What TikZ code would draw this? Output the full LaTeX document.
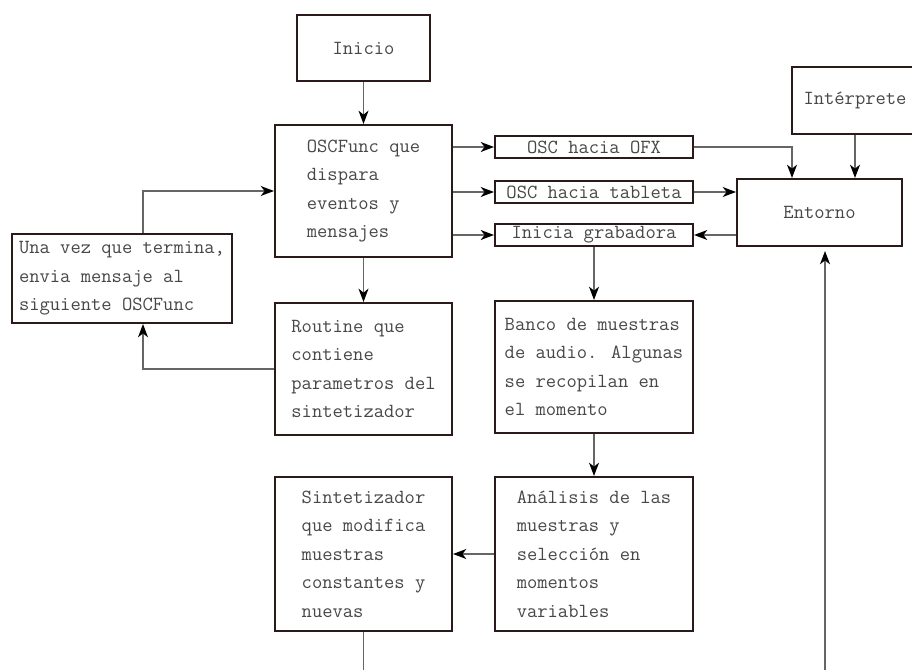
\documentclass[tikz,border=0pt]{standalone}
\usepackage{fontspec}
\usepackage{tikz}
\usetikzlibrary{arrows.meta}
\definecolor{borde}{HTML}{2B1A1A}
\definecolor{linea}{HTML}{666666}

\begin{document}
\begin{tikzpicture}[x=0.75pt,y=-0.75pt,
  caja/.style={draw=borde,line width=1.5pt,fill=white,text=black!72,align=left,inner sep=2pt,
    font=\ttfamily\fontsize{15}{21.4}\selectfont},
  tira/.style={caja,minimum width=148.5pt,minimum height=16.5pt,inner sep=0pt},
  flecha/.style={draw=linea,line width=1.1pt,-{Stealth[length=10pt,width=7.5pt,inset=3pt,color=black]}}]
\fill[white] (0,0) rectangle (912,670); \useasboundingbox (0,0) rectangle (912,670);

\node [caja,minimum width=99.75pt,minimum height=49.5pt] (inicio) at (363.5,48) {Inicio};
\node [caja,minimum width=132.75pt,minimum height=99pt] (oscfunc) at (363.5,191) {OSCFunc que\\dispara\\eventos y\\mensajes};
\node [caja,minimum width=165pt,minimum height=66.75pt] (unavez) at (122,278.5) {Una vez que termina,\\envia mensaje al\\siguiente OSCFunc};
\node [caja,minimum width=132.75pt,minimum height=99pt] (routine) at (363.5,369) {Routine que\\contiene\\parametros del\\sintetizador};
\node [caja,minimum width=132.75pt,minimum height=115.5pt] (sinte) at (363.5,554) {Sintetizador\\que modifica\\muestras\\constantes y\\nuevas};

\node [tira] (ofx) at (594,147) {OSC hacia OFX};
\node [tira] (tableta) at (594,192) {OSC hacia tableta};
\node [tira] (grabadora) at (594,235) {Inicia grabadora};
\node [caja,minimum width=148.5pt,minimum height=99pt] (banco) at (594,367) {Banco de muestras\\de audio. Algunas\\se recopilan en\\el momento};
\node [caja,minimum width=148.5pt,minimum height=115.5pt] (analisis) at (594,554) {Análisis de las\\muestras y\\selección en\\momentos\\variables};

\node [caja,minimum width=123.75pt,minimum height=50.25pt] (entorno) at (819.5,212.5) {Entorno};
\node [caja,minimum width=94.5pt,minimum height=50.25pt] (interprete) at (855,100.5) {Intérprete};

\coordinate (lazo) at (143,0); \coordinate (haciaofx) at (792,0);
\coordinate (finsinte) at (363.5,670); \coordinate (retorno) at (825,670);

\draw [flecha] (inicio) -- (oscfunc);
\draw [flecha] (oscfunc) -- (routine);
\draw [flecha] (lazo |- unavez.north) |- (oscfunc.west);
\draw [flecha] (routine.west) -| (lazo |- unavez.south);

\draw [flecha] (oscfunc.east |- ofx.west) -- (ofx.west);
\draw [flecha] (oscfunc.east |- tableta.west) -- (tableta.west);
\draw [flecha] (oscfunc.east |- grabadora.west) -- (grabadora.west);

\draw [flecha] (ofx.east) -| (haciaofx |- entorno.north);
\draw [flecha] (interprete.south) -- (interprete.south |- entorno.north);
\draw [flecha] (tableta.east) -- (entorno.west |- tableta.east);
\draw [flecha] (entorno.west |- grabadora.east) -- (grabadora.east);

\draw [flecha] (grabadora) -- (banco);
\draw [flecha] (banco) -- (analisis);
\draw [flecha] (analisis.west) -- (sinte.east);
\draw [draw=linea,line width=1.1pt] (sinte.south) -- (finsinte);
\draw [flecha,shorten >=3pt] (retorno) -- (retorno |- entorno.south);

\end{tikzpicture}
\end{document}
